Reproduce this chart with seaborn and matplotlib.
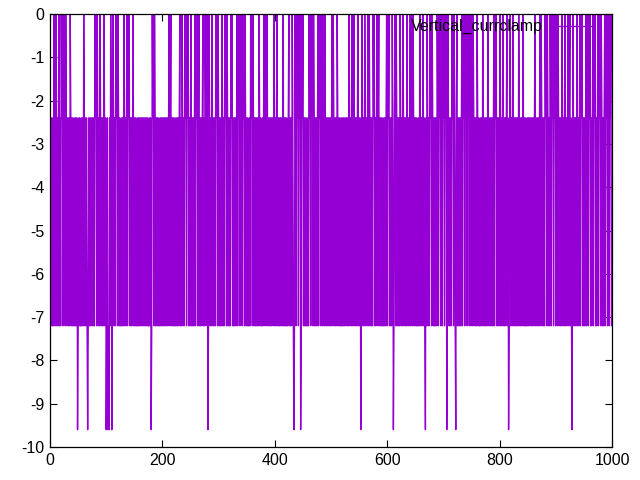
import numpy as np
import pandas as pd
import matplotlib
matplotlib.use("Agg")
import matplotlib.pyplot as plt
import seaborn as sns

# current levels seen in the trace, and one code per sample
levels = [0.0, -2.4, -7.2, -9.6]
trace_codes = (
    "1212122012" "1021210212" "0102010201" "2112120121" "2122121213"
    "2121221212" "0121212321" "2121121212" "0102012120" "1212120121"
    "3213231201" "3201212010" "2012122121" "2102121020" "1021212102"
    "1212212121" "2121121212" "1212122121" "3201020121" "2121221212"
    "1212121121" "2102102121" "2122121212" "1021201212" "0102010212"
    "1021212102" "0102102121" "2102120120" "1320121201" "2121201020"
    "1212120121" "2010201212" "1201021212" "1210201020" "1020102012"
    "1212212010" "2012121212" "1201212212" "1020120121" "2121211210"
    "2121021212" "1212102121" "2122102121" "2012320120" "1020103201"
    "0212121221" "2010201020" "1212121020" "1020120120" "1212112121"
    "2102012121" "2012121221" "2121211212" "1201212012" "1021212102"
    "1213201212" "0121210201" "2121201021" "2102102121" "2122121210"
    "2010212120" "1321020121" "2120121201" "2121201212" "1020120121"
    "2121221201" "2121021231" "2012120102" "0121212120" "1201020120"
    "1020103201" "2121201020" "1231021212" "1210201020" "1020102012"
    "1020121212" "0121221212" "0121212120" "1212112121" "0201021212"
    "1021210212" "1210213210" "2121021212" "1212012121" "2102121221"
    "2121211212" "1210212121" "2102012121" "2010201212" "0120102010"
    "2012012121" "2012120121" "2102102123" "1021212102" "1210201021"
    "2121021020" "1021210201" "0212102010" "2012121020" "1021020102"
)
x_ticks = [0, 200, 400, 600, 800, 1000]
y_ticks = [0, -1, -2, -3, -4, -5, -6, -7, -8, -9, -10]
series_name = "Vertical_currclamp"

current = [levels[int(c)] for c in trace_codes]
df = pd.DataFrame({"t": np.arange(len(current)), "I": current})

sns.set_style("ticks")
plt.rcParams["font.family"] = ["Liberation Sans", "DejaVu Sans"]
plt.rcParams["axes.unicode_minus"] = False

fig = plt.figure(figsize=(6.4, 4.8), dpi=100)
ax = fig.add_axes([50 / 640, 33 / 480, 562 / 640, 433 / 480])

sns.lineplot(data=df, x="t", y="I", ax=ax, color="#9400d3", linewidth=1.0,
             estimator=None, label=series_name)

ax.set_xlim(0, 1000)
ax.set_ylim(-10, 0)
ax.set_xticks(x_ticks)
ax.set_yticks(y_ticks)
ax.set_xlabel("")
ax.set_ylabel("")
ax.tick_params(direction="in", top=True, right=True, length=5, width=0.8,
               labelsize=11.5, colors="black", pad=4)
for s in ax.spines.values():
    s.set_visible(True)
    s.set_linewidth(0.9)
    s.set_color("black")

leg = ax.legend(loc="upper right", frameon=False, markerfirst=False,
                handlelength=2.4, fontsize=11.5, bbox_to_anchor=(0.985, 1.01),
                borderaxespad=0.2, handletextpad=0.8)
for txt in leg.get_texts():
    txt.set_color("black")

fig.savefig("out.png", dpi=100)
